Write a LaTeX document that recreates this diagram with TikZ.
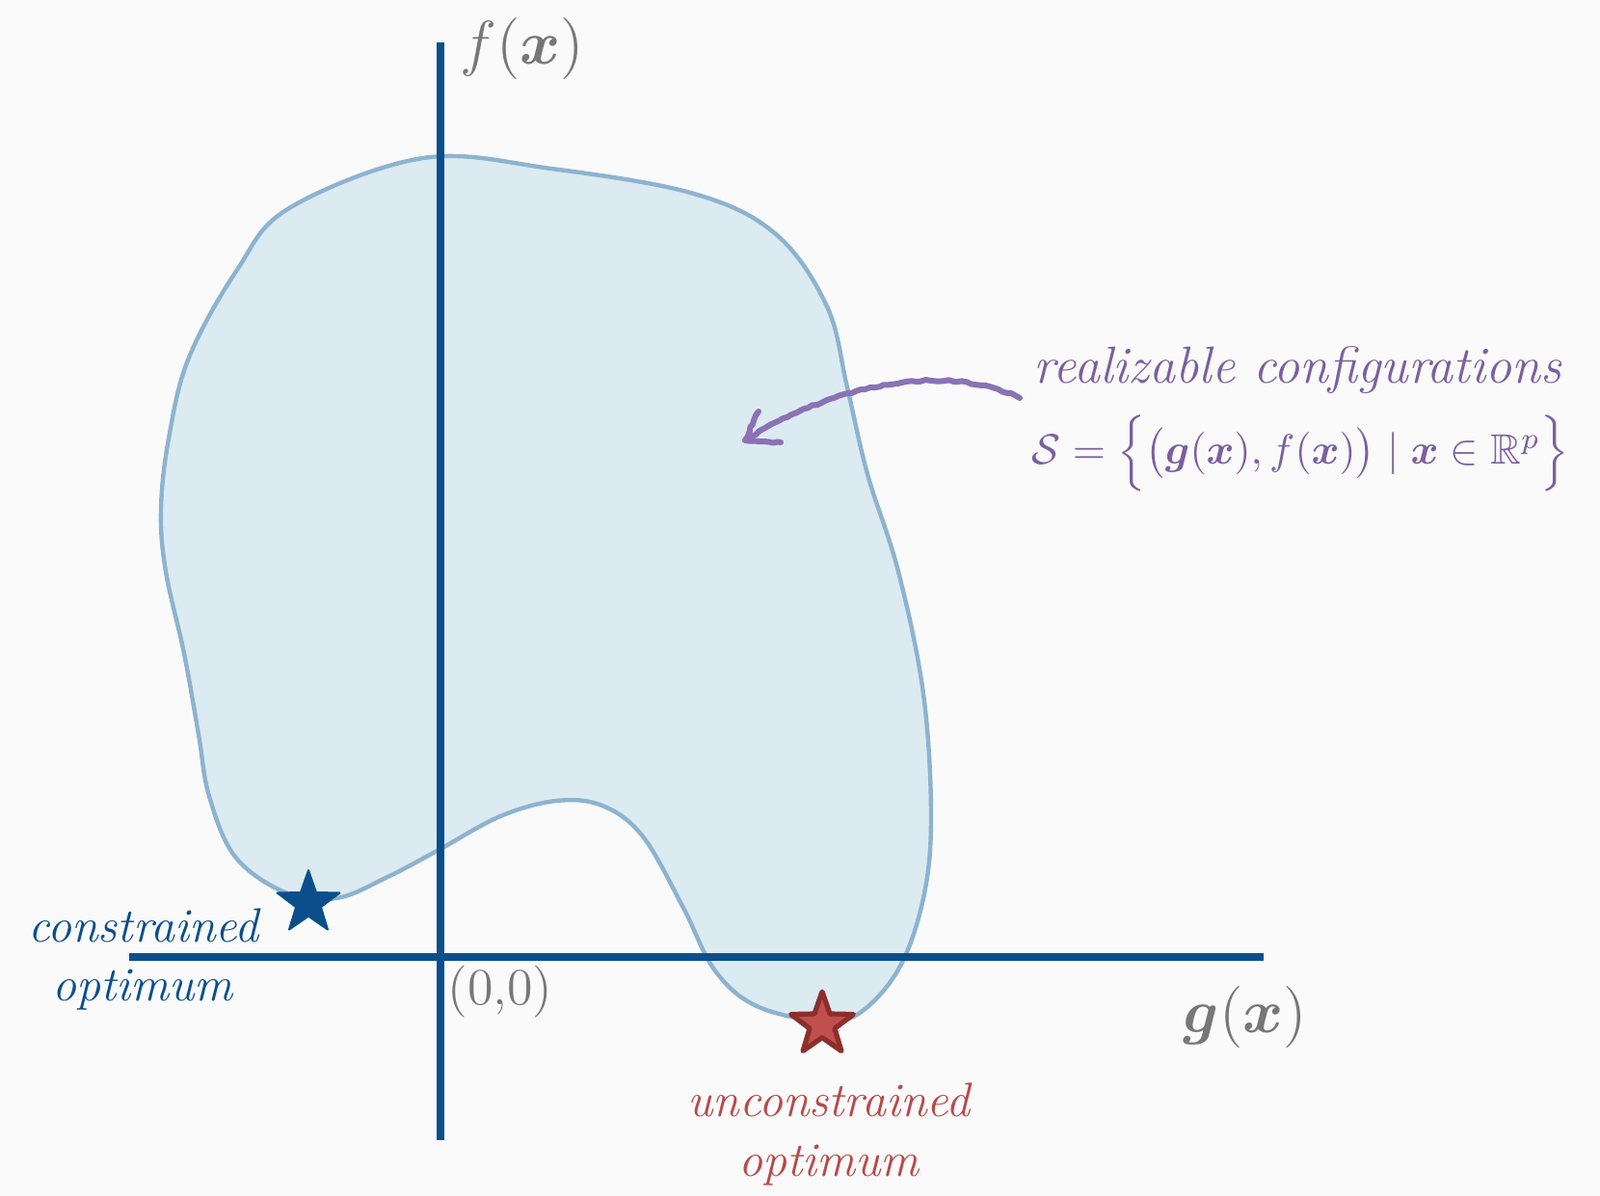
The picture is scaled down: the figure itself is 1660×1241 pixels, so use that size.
\RequirePackage{fix-cm}
\documentclass[tikz,border=0pt]{standalone}
\usepackage{amsmath,amssymb,bm}
\usetikzlibrary{shapes.geometric,decorations.pathmorphing}
\definecolor{bg}{HTML}{FAFAFA}
\definecolor{axisblue}{HTML}{0A4F8C}
\definecolor{blobfill}{HTML}{DCEAF1}
\definecolor{blobline}{HTML}{8DB3D0}
\definecolor{purp}{HTML}{7B5FA0}
\definecolor{arrowpurp}{HTML}{8A72B4}
\definecolor{redtxt}{HTML}{B84A48}
\definecolor{redfill}{HTML}{C0504D}
\definecolor{reddark}{HTML}{8C2E2C}
\definecolor{graytxt}{HTML}{777777}
\tikzset{
  axisline/.style={axisblue, line width=1.8pt},
  blob/.style={draw=blobline, fill=blobfill, line width=1.1pt},
  label/.style={font=\fontsize{12.5}{15}\selectfont\itshape, inner sep=0pt},
  axlabel/.style={text=graytxt, inner sep=0pt, font=\fontsize{16}{19}\selectfont},
  starshape/.style={star, star points=5, star point ratio=2.5, minimum size=17pt, inner sep=0pt, line join=round},
  sketchy/.style={arrowpurp, line width=1.5pt, line cap=round, line join=round,
    decorate, decoration={random steps, segment length=1.2pt, amplitude=0.25pt}}
}
\begin{document}
\begin{tikzpicture}[x=0.25pt,y=-0.25pt]
\fill[bg] (0,0) rectangle (1660,1241);
\useasboundingbox (0,0) rectangle (1660,1241);
% feasible region
\draw[blob] plot[smooth cycle, tension=0.6] coordinates {
 (300,216) (439,164) (572,175) (720,201) (805,243) (858,318) (879,402)
 (900,492) (932,593) (958,720) (966,847) (958,932) (932,1006) (889,1053)
 (847,1059) (783,1043) (741,1006) (709,942) (667,868) (625,836) (577,831)
 (519,847) (455,882) (402,910) (349,932) (296,926) (244,889) (217,826)
 (206,762) (191,678) (172,593) (167,529) (175,455) (196,371) (246,280)};
% axes
\coordinate (yb) at (457,1183);
\coordinate (yt) at (457,44);
\coordinate (xl) at (134,993);
\coordinate (xr) at (1311,993);
\draw[axisline] (yb) -- (yt);
\draw[axisline] (xl) -- (xr);
% axis labels
\node[axlabel] (fx) at (542,51) {$f(\bm{x})$};
\node[axlabel] (gx) at (1292,1055) {$\bm{g}(\bm{x})$};
\node[text=graytxt, inner sep=0pt, font=\fontsize{13.5}{16}\selectfont] (orig) at (519,1029) {(0,0)};
% stars
\node[starshape, fill=axisblue, draw=axisblue, line width=0.5pt] (cstar) at (320,937) {};
\node[starshape, fill=redfill, draw=reddark, line width=1.3pt] (ustar) at (853,1063) {};
% star labels
\node[label, text=axisblue] (c1) at (149,960) {constrained};
\node[label, text=axisblue] (c2) at (148,1027) {optimum};
\node[label, text=redtxt] (u1) at (860,1141) {unconstrained};
\node[label, text=redtxt] (u2) at (860,1209) {optimum};
% description
\node[label, text=purp, anchor=west, font=\fontsize{13.5}{16}\selectfont\itshape] (rc) at (1072,384) {realizable configurations};
\node[text=purp, anchor=west, inner sep=0pt, font=\fontsize{11}{13}\selectfont] (formula) at (1070,470)
  {$\mathcal{S} = \Big\{\big(\bm{g}(\bm{x}), f(\bm{x})\big) \mid \bm{x}\in\mathbb{R}^p\Big\}$};
% arrow
\coordinate (as) at (1058,413);
\coordinate (ae) at (773,457);
\coordinate (ab1) at (787,427);
\coordinate (ab2) at (810,459);
\draw[sketchy] (as) .. controls (990,380) and (880,390) .. (ae);
\draw[sketchy] (ab1) -- (ae) -- (ab2);
\end{tikzpicture}
\end{document}
